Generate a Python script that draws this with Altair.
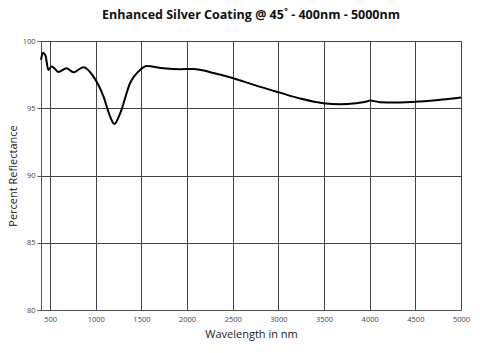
import altair as alt
import pandas as pd

wavelength = [400, 420, 450, 480, 517, 550, 590, 680, 755, 865, 975, 1085, 1157, 1203, 1266, 1375, 1485, 1557,
              1740, 1923, 2068, 2300, 2506, 2750, 3017, 3250, 3492, 3675, 3850, 3967, 4003, 4113, 4295, 4550, 4800, 5000]
reflectance = [98.6, 99.13, 98.9, 97.85, 98.1, 97.95, 97.7, 97.97, 97.67, 98.05, 97.35, 95.86, 94.38, 93.83, 94.6,
               96.86, 97.85, 98.14, 97.97, 97.9, 97.92, 97.6, 97.23, 96.7, 96.16, 95.7, 95.37, 95.3, 95.38, 95.5, 95.57,
               95.45, 95.42, 95.5, 95.65, 95.8]
x_ticks = [500, 1000, 1500, 2000, 2500, 3000, 3500, 4000, 4500, 5000]
y_ticks = [80, 85, 90, 95, 100]

df = pd.DataFrame({"wavelength": wavelength, "reflectance": reflectance})

FONT = "Open Sans"

chart = alt.Chart(df).mark_line(color="black", strokeWidth=2, interpolate="monotone").encode(
    x=alt.X("wavelength:Q", scale=alt.Scale(domain=[400, 5000], nice=False, zero=False),
            axis=alt.Axis(values=x_ticks, format="d", title="Wavelength in nm", grid=True, gridColor="#444",
                          gridWidth=1, tickSize=0, labelPadding=5, labelFontSize=7.5, labelColor="#444",
                          labelFont=FONT, titleFont=FONT, titleFontSize=11, titleFontWeight="normal",
                          titleColor="#222", titlePadding=6, domainColor="#555", labelOverlap=False,
                          labelFlush=False)),
    y=alt.Y("reflectance:Q", scale=alt.Scale(domain=[80, 100], nice=False, zero=False),
            axis=alt.Axis(values=y_ticks, format="d", title="Percent Reflectance", grid=True, gridColor="#444",
                          gridWidth=1, tickSize=4, tickColor="#555", labelPadding=2, labelFontSize=7.5,
                          labelColor="#444", labelFont=FONT, titleFont=FONT, titleFontSize=11,
                          titleFontWeight="normal", titleColor="#222", titlePadding=4, domainColor="#555",
                          labelFlush=False)),
).properties(
    width=420,
    height=269,
    padding={"left": 41, "top": 41, "right": 19, "bottom": 43},
    autosize=alt.AutoSizeParams(type="none"),
    title=alt.TitleParams("Enhanced Silver Coating @ 45˚ - 400nm - 5000nm", font=FONT, fontSize=12.5,
                          fontWeight="bold", color="#111", offset=16, anchor="middle"),
).configure_view(stroke="#444", strokeWidth=1).configure(background="white")

chart.save("out.html", embed_options={"renderer": "svg", "actions": False})
